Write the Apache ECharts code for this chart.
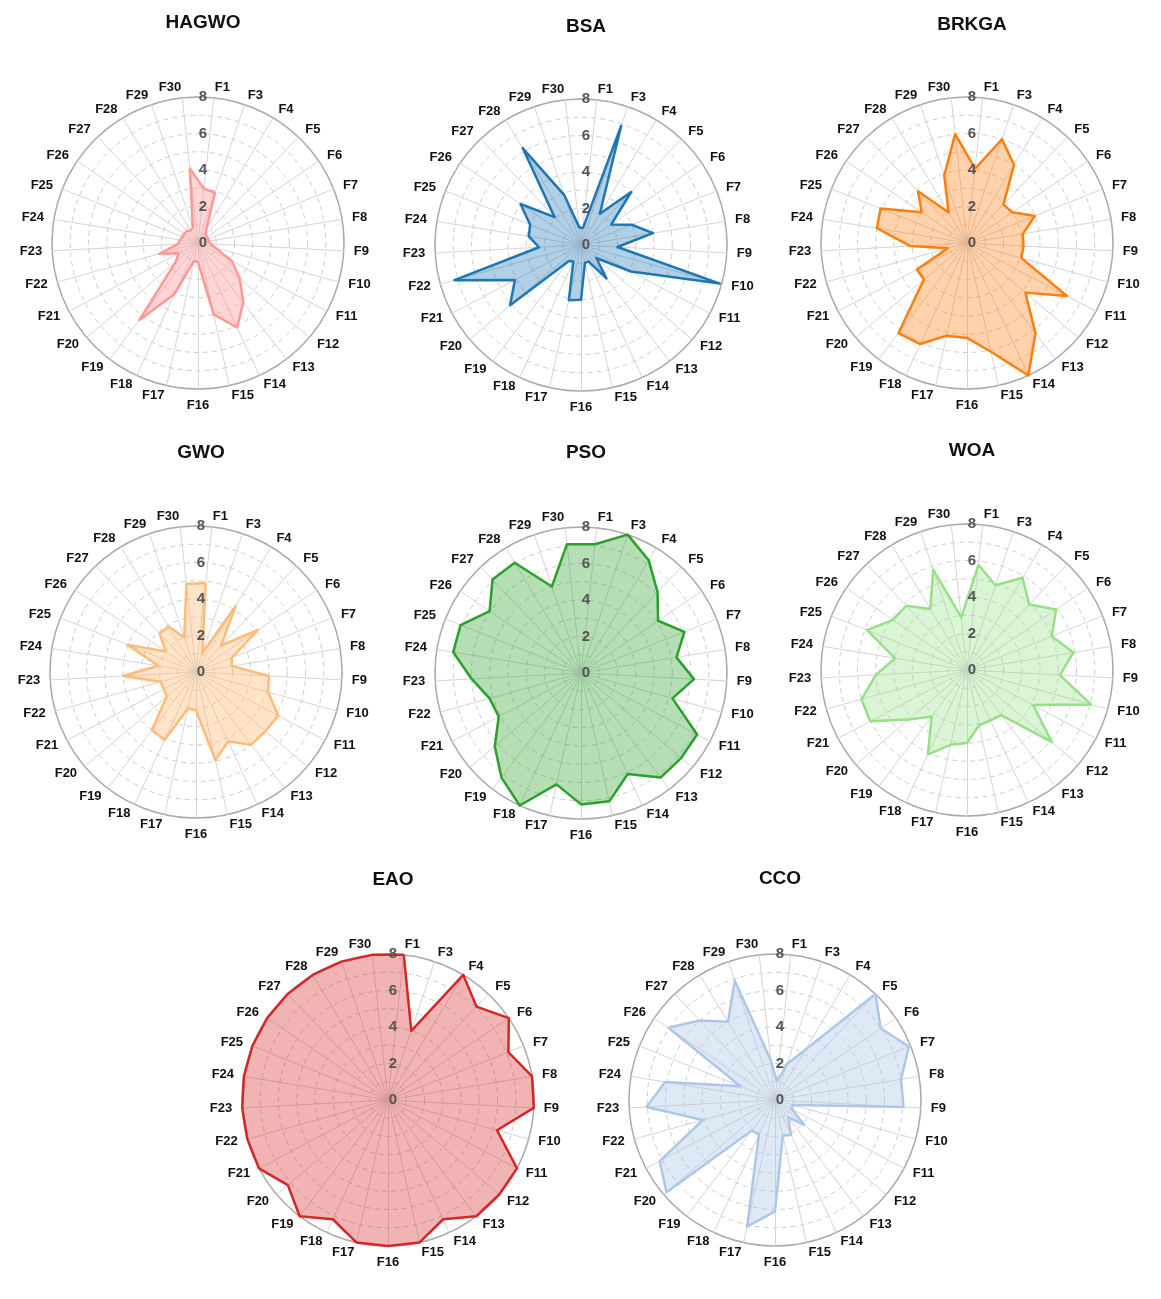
<!DOCTYPE html>
<html>
<head>
<meta charset="utf-8" />
<style>
  body, html { margin: 0; width: 100%; height: 100%; background: #fff; }
  #main { width: 1161px; height: 1299px; }
</style>
<script src="https://cdn.jsdelivr.net/npm/echarts@6/dist/echarts.min.js"></script>
</head>
<body>
<div id="main"></div>
<script>
  // functions F1, F3..F30 (clockwise from top)
  const funcs = ['F1','F3','F4','F5','F6','F7','F8','F9','F10','F11','F12','F13','F14','F15',
    'F16','F17','F18','F19','F20','F21','F22','F23','F24','F25','F26','F27','F28','F29','F30']
  const rTicks = [0, 2, 4, 6, 8]

  const names = ['HAGWO', 'BSA', 'BRKGA', 'GWO', 'PSO', 'WOA', 'EAO', 'CCO']
  const colors = ['#ff9896', '#1f77b4', '#ff7f0e', '#ffbb78', '#2ca02c', '#98df8a', '#d62728', '#aec7e8']
  const fillAlpha = [0.4, 0.35, 0.35, 0.4, 0.35, 0.35, 0.35, 0.4]

  const HAGWO = [3.0,2.9,0.9,0.6,0.6,0.6,0.6,0.7,1.0,2.1,3.0,4.1,5.1,4.0,1.05,1.0,3.1,5.3,1.6,1.2,2.2,1.1,1.0,0.9,0.9,0.9,0.8,0.9,4.1]
  const BSA = [0.9,6.9,2.0,4.0,2.0,3.0,4.0,2.0,7.9,3.1,1.1,2.3,1.0,1.0,3.0,3.1,1.0,1.1,5.1,4.1,7.2,2.3,2.9,3.0,4.0,2.1,6.2,2.9,1.0]
  const BRKGA = [4.1,6.0,5.0,2.9,3.0,4.0,3.1,3.1,3.1,6.2,4.2,6.2,8.0,6.1,5.2,5.2,6.1,6.2,3.1,3.1,1.1,3.1,5.0,5.1,3.0,3.9,1.95,3.9,6.0]
  const GWO = [4.9,1.1,4.2,2.0,4.1,2.1,2.0,4.0,4.1,5.1,5.0,5.0,4.2,4.95,2.1,2.05,4.1,4.0,2.1,2.0,2.0,4.0,2.1,4.05,2.0,2.9,2.9,2.0,4.85]
  const PSO = [7.1,8.0,7.2,6.1,5.1,6.1,5.3,6.2,5.2,7.2,7.2,7.2,6.1,7.2,7.2,6.25,8.0,7.2,6.2,5.1,5.2,6.0,7.1,7.1,6.05,7.05,7.05,5.0,7.1]
  const WOA = [5.8,4.9,5.9,4.95,5.9,5.0,5.9,5.1,7.05,4.1,6.1,3.1,3.05,3.1,4.0,4.2,5.1,3.2,4.2,6.0,6.0,5.0,4.0,5.9,4.9,4.85,3.9,5.8,2.9]
  const EAO = [8,4.0,8,7.05,8,7.1,8,8,6.2,8,8,8,7.2,8,8,8,7.2,8,7.2,8,8,8,8,8,8,8,8,8,8]
  const CCO = [1.0,2.1,3.2,8.0,7.0,7.9,7.0,7.05,1.0,1.05,2.1,1.2,2.1,2.0,6.1,7.1,2.1,2.1,7.8,7.15,4.1,7.05,6.1,2.05,7.05,6.0,5.0,6.9,2.2]
  const series = [HAGWO, BSA, BRKGA, GWO, PSO, WOA, EAO, CCO]

  const centers = [[198,243],[581,245],[967,243],[196,672],[581,673],[967,670],[388,1100],[775,1100]]
  const titleTops = [8,12,10,438,438,436,865,864]
  const R = 146

  // radar goes counter-clockwise, so feed F1 then F30, F29 ... F3
  function reorder(arr) {
    return [arr[0]].concat(arr.slice(1).reverse())
  }
  const step = 360 / funcs.length

  let option = { animation: false, title: [], radar: [], polar: [], angleAxis: [], radiusAxis: [], series: [] }

  names.forEach((nm, i) => {
    const c = centers[i]
    option.title.push({
      text: nm, left: c[0], top: titleTops[i], textAlign: 'center',
      textStyle: { fontFamily: 'Liberation Sans', fontWeight: 'bold', fontSize: 19, color: '#111' }
    })
    option.radar.push({
      center: c, radius: R, shape: 'circle', startAngle: 90 - step / 2,
      splitNumber: 8,
      indicator: reorder(funcs).map(f => ({ name: f, min: 0, max: 8 })),
      axisName: { color: '#111', fontFamily: 'Liberation Sans', fontWeight: 'bold', fontSize: 13 },
      nameGap: 10,
      axisLine: { lineStyle: { color: '#d4d4d4', width: 1 } },
      splitLine: { lineStyle: { color: '#cccccc', type: [5, 4], width: 1 } },
      splitArea: { show: false },
      axisTick: { show: false }, axisLabel: { show: false }
    })
    option.polar.push({ center: c, radius: R })
    option.angleAxis.push({
      polarIndex: i, startAngle: 90, min: 0, max: 360,
      axisLine: { lineStyle: { color: '#aaaaaa', width: 1.5 } },
      axisTick: { show: false }, axisLabel: { show: false }, splitLine: { show: false }
    })
    option.radiusAxis.push({
      polarIndex: i, min: rTicks[0], max: rTicks[rTicks.length - 1], interval: 2,
      axisLine: { show: false }, axisTick: { show: false }, splitLine: { show: false },
      axisLabel: { color: '#555', fontFamily: 'Liberation Sans', fontWeight: 'bold', fontSize: 15, margin: -5, align: 'center', verticalAlign: 'middle' },
      z: 10
    })
    option.series.push({
      type: 'radar', radarIndex: i, symbol: 'none', z: 3,
      lineStyle: { color: colors[i], width: 2.5 },
      areaStyle: { color: colors[i], opacity: fillAlpha[i] },
      data: [{ value: reorder(series[i]), name: nm }]
    })
  })

  let myChart = echarts.init(document.getElementById('main'))
  myChart.setOption(option)
</script>
</body>
</html>
